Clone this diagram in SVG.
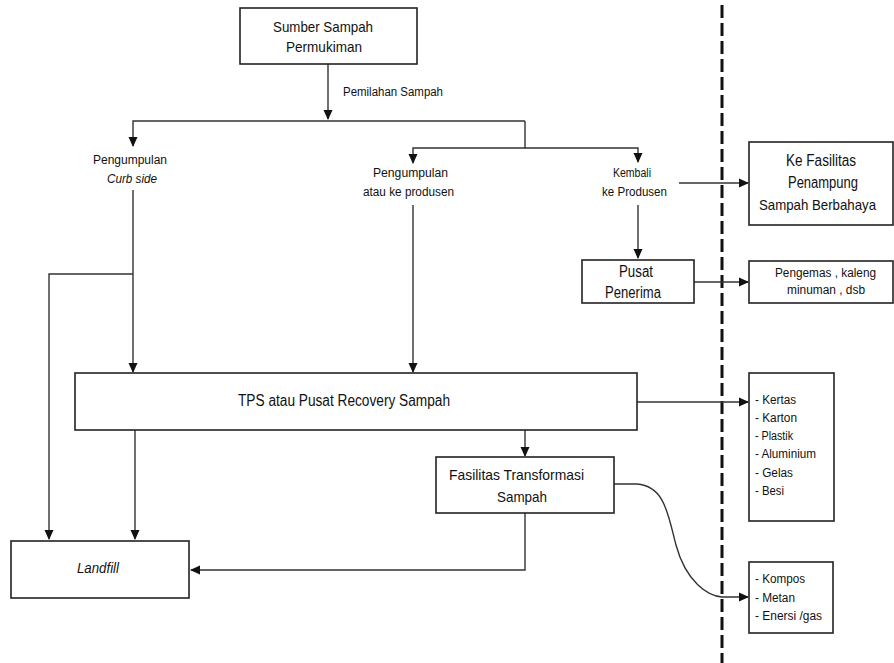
<svg xmlns="http://www.w3.org/2000/svg" width="894" height="663" viewBox="0 0 894 663">
<defs>
<marker id="ah" markerWidth="10" markerHeight="10" refX="9" refY="5" orient="auto" markerUnits="userSpaceOnUse">
<path d="M0,0.5 L10,5 L0,9.5 Z" fill="#111"/>
</marker>
<style>
.box{fill:#fff;stroke:#222;stroke-width:1.6}
.ln{fill:none;stroke:#333;stroke-width:1.4}
text{font-family:"Liberation Sans",Arial,sans-serif;fill:#111}
.s12{font-size:12px}
.s15{font-size:15px}
.s16{font-size:16px}
.it{font-style:italic}
</style>
</defs>
<rect width="894" height="663" fill="#fff"/>
<line x1="722" y1="5" x2="722" y2="663" stroke="#111" stroke-width="3" stroke-dasharray="13,5"/>
<g id="connectors">
<path class="ln" d="M328,64 V119" marker-end="url(#ah)"/>
<path class="ln" d="M525,121 H133 V146" marker-end="url(#ah)"/>
<path class="ln" d="M525,121 V148 H413 V163" marker-end="url(#ah)"/>
<path class="ln" d="M525,148 H638 V162" marker-end="url(#ah)"/>
<path class="ln" d="M679,183 H748" marker-end="url(#ah)"/>
<path class="ln" d="M638,205 V258" marker-end="url(#ah)"/>
<path class="ln" d="M694,282 H748" marker-end="url(#ah)"/>
<path class="ln" d="M133,190 V372" marker-end="url(#ah)"/>
<path class="ln" d="M133,274 H49 V539" marker-end="url(#ah)"/>
<path class="ln" d="M413,205 V372" marker-end="url(#ah)"/>
<path class="ln" d="M135,430 V539" marker-end="url(#ah)"/>
<path class="ln" d="M525,430 V456" marker-end="url(#ah)"/>
<path class="ln" d="M637,402 H748" marker-end="url(#ah)"/>
<path class="ln" d="M525,513 V570 H191" marker-end="url(#ah)"/>
<path class="ln" d="M614,484 H637 C665,486 668,515 676,545 C686,582 708,596 722,597 H748" marker-end="url(#ah)"/>
</g>
<g id="sumber">
<rect class="box" x="240" y="8" width="177" height="56"/>
<text class="s15" x="273" y="32" textLength="100" lengthAdjust="spacingAndGlyphs">Sumber Sampah</text>
<text class="s15" x="286" y="52" textLength="76" lengthAdjust="spacingAndGlyphs">Permukiman</text>
</g>
<text class="s12" x="343" y="96" textLength="100" lengthAdjust="spacingAndGlyphs">Pemilahan Sampah</text>
<g id="curbside">
<text class="s12" x="93" y="164" textLength="74" lengthAdjust="spacingAndGlyphs">Pengumpulan</text>
<text class="s12 it" x="107" y="183" textLength="50" lengthAdjust="spacingAndGlyphs">Curb side</text>
</g>
<g id="produsen">
<text class="s12" x="373" y="177" textLength="75" lengthAdjust="spacingAndGlyphs">Pengumpulan</text>
<text class="s12" x="363" y="196" textLength="91" lengthAdjust="spacingAndGlyphs">atau ke produsen</text>
</g>
<g id="kembali">
<text class="s12" x="613" y="177" textLength="38" lengthAdjust="spacingAndGlyphs">Kembali</text>
<text class="s12" x="602" y="196" textLength="65" lengthAdjust="spacingAndGlyphs">ke Produsen</text>
</g>
<g id="fasilitas-b3">
<rect class="box" x="749" y="142" width="144" height="83"/>
<text class="s16" x="786" y="166" textLength="70" lengthAdjust="spacingAndGlyphs">Ke Fasilitas</text>
<text class="s16" x="788" y="188" textLength="70" lengthAdjust="spacingAndGlyphs">Penampung</text>
<text class="s15" x="759" y="210" textLength="117" lengthAdjust="spacingAndGlyphs">Sampah Berbahaya</text>
</g>
<g id="pusat">
<rect class="box" x="582" y="260" width="112" height="43"/>
<text class="s16" x="619" y="277" textLength="34" lengthAdjust="spacingAndGlyphs">Pusat</text>
<text class="s16" x="605" y="298" textLength="56" lengthAdjust="spacingAndGlyphs">Penerima</text>
</g>
<g id="pengemas">
<rect class="box" x="749" y="261" width="144" height="42"/>
<text class="s12" x="775" y="277" textLength="101" lengthAdjust="spacingAndGlyphs">Pengemas , kaleng</text>
<text class="s12" x="787" y="294" textLength="78" lengthAdjust="spacingAndGlyphs">minuman , dsb</text>
</g>
<g id="tps">
<rect class="box" x="75" y="373" width="562" height="57"/>
<text class="s16" x="238" y="406" textLength="212" lengthAdjust="spacingAndGlyphs">TPS atau Pusat Recovery Sampah</text>
</g>
<g id="kertas">
<rect class="box" x="749" y="373" width="85" height="148"/>
<text class="s12" x="755" y="404" textLength="41" lengthAdjust="spacingAndGlyphs">- Kertas</text>
<text class="s12" x="755" y="422" textLength="42" lengthAdjust="spacingAndGlyphs">- Karton</text>
<text class="s12" x="755" y="440" textLength="38" lengthAdjust="spacingAndGlyphs">- Plastik</text>
<text class="s12" x="755" y="458" textLength="61" lengthAdjust="spacingAndGlyphs">- Aluminium</text>
<text class="s12" x="755" y="477" textLength="38" lengthAdjust="spacingAndGlyphs">- Gelas</text>
<text class="s12" x="755" y="495" textLength="29" lengthAdjust="spacingAndGlyphs">- Besi</text>
</g>
<g id="transformasi">
<rect class="box" x="436" y="457" width="178" height="56"/>
<text class="s15" x="449" y="480" textLength="135" lengthAdjust="spacingAndGlyphs">Fasilitas Transformasi</text>
<text class="s15" x="497" y="502" textLength="50" lengthAdjust="spacingAndGlyphs">Sampah</text>
</g>
<g id="landfill">
<rect class="box" x="11" y="541" width="178" height="57"/>
<text class="s15 it" x="77" y="573" textLength="42" lengthAdjust="spacingAndGlyphs">Landfill</text>
</g>
<g id="kompos">
<rect class="box" x="749" y="562" width="84" height="71"/>
<text class="s12" x="755" y="583" textLength="50" lengthAdjust="spacingAndGlyphs">- Kompos</text>
<text class="s12" x="755" y="602" textLength="40" lengthAdjust="spacingAndGlyphs">- Metan</text>
<text class="s12" x="755" y="620" textLength="67" lengthAdjust="spacingAndGlyphs">- Enersi /gas</text>
</g>
</svg>
